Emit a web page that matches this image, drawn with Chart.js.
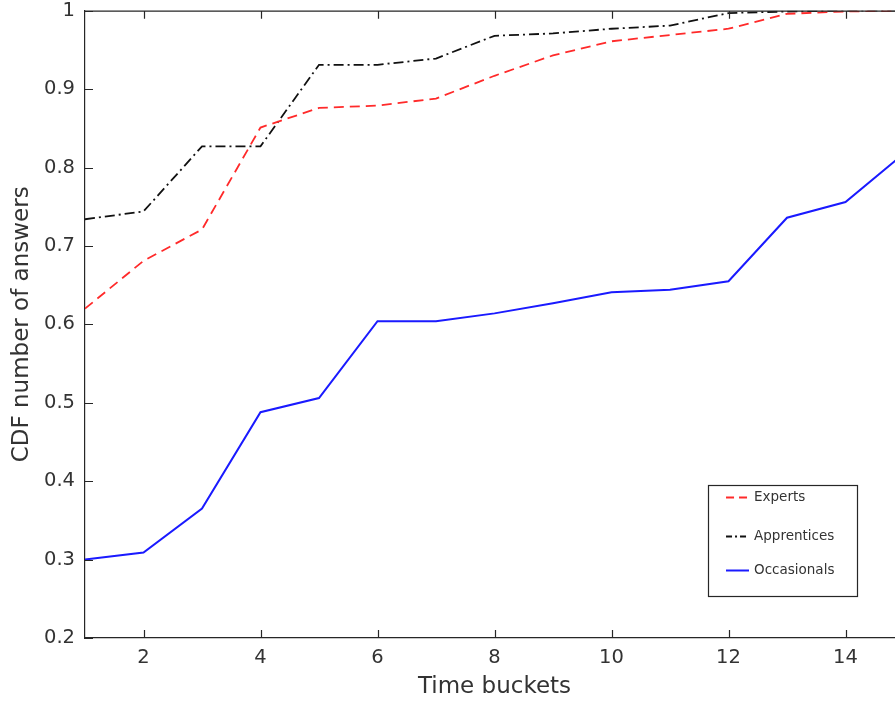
<!DOCTYPE html>
<html>
<head>
<meta charset="utf-8">
<script src="https://cdn.jsdelivr.net/npm/chart.js@4.4.1/dist/chart.umd.min.js"></script>
<style>
  html, body { margin: 0; padding: 0; background: #fff; overflow: hidden; }
  #wrap { width: 912px; height: 716px; margin-top: -11px; }
</style>
</head>
<body>
<div id="wrap"><canvas id="cdf"></canvas></div>
<script>
const buckets = [1, 2, 3, 4, 5, 6, 7, 8, 9, 10, 11, 12, 13, 14, 15];
const experts = [0.620, 0.681, 0.721, 0.851, 0.876, 0.879, 0.888, 0.917, 0.943, 0.961, 0.969, 0.977, 0.996, 0.999, 1.000];
const apprentices = [0.734, 0.744, 0.827, 0.827, 0.931, 0.931, 0.939, 0.968, 0.971, 0.977, 0.981, 0.997, 0.999, 1.000, 1.000];
const occasionals = [0.300, 0.309, 0.365, 0.488, 0.506, 0.604, 0.604, 0.614, 0.627, 0.641, 0.644, 0.655, 0.736, 0.756, 0.818];
const xTicks = [2, 4, 6, 8, 10, 12, 14];
const yTicks = [0.2, 0.3, 0.4, 0.5, 0.6, 0.7, 0.8, 0.9, 1];

const axisColor = '#262626';
const textColor = '#333333';
const fontFam = '"DejaVu Sans", sans-serif';

const toPoints = (vals) => vals.map((v, i) => ({ x: buckets[i], y: v }));

// inward ticks on all four sides plus the top/right box lines
const boxTicks = {
  id: 'boxTicks',
  afterDatasetsDraw(chart) {
    const { ctx, chartArea: a, scales } = chart;
    ctx.save();
    ctx.strokeStyle = axisColor;
    ctx.lineWidth = 1.2;
    ctx.beginPath();
    ctx.moveTo(a.left, a.top + 0.5);
    ctx.lineTo(a.right, a.top + 0.5);
    ctx.moveTo(a.right - 0.5, a.top);
    ctx.lineTo(a.right - 0.5, a.bottom);
    const len = 8;
    xTicks.forEach((t) => {
      const px = Math.round(scales.x.getPixelForValue(t)) + 0.5;
      ctx.moveTo(px, a.bottom);
      ctx.lineTo(px, a.bottom - len);
      ctx.moveTo(px, a.top);
      ctx.lineTo(px, a.top + len);
    });
    yTicks.forEach((t) => {
      const py = Math.round(scales.y.getPixelForValue(t)) + 0.5;
      ctx.moveTo(a.left, py);
      ctx.lineTo(a.left + len, py);
      ctx.moveTo(a.right, py);
      ctx.lineTo(a.right - len, py);
    });
    ctx.stroke();
    ctx.restore();
  }
};

// boxed legend inside the plot, lower right
const boxLegend = {
  id: 'boxLegend',
  afterDraw(chart) {
    const { ctx, scales } = chart;
    const x0 = scales.x.getPixelForValue(11.65);
    const x1 = scales.x.getPixelForValue(14.2);
    const y0 = scales.y.getPixelForValue(0.395);
    const y1 = scales.y.getPixelForValue(0.2535);
    ctx.save();
    ctx.fillStyle = '#fff';
    ctx.fillRect(x0, y0, x1 - x0, y1 - y0);
    ctx.strokeStyle = axisColor;
    ctx.lineWidth = 1.2;
    ctx.strokeRect(Math.round(x0) + 0.5, Math.round(y0) + 0.5, Math.round(x1 - x0), Math.round(y1 - y0));
    const rows = [y0 + 12, y0 + 51, y0 + 85];
    ctx.font = '13.5px ' + fontFam;
    ctx.textBaseline = 'middle';
    chart.data.datasets.forEach((ds, i) => {
      const y = Math.round(rows[i]) + 0.5;
      ctx.strokeStyle = ds.borderColor;
      ctx.lineWidth = ds.borderWidth;
      ctx.setLineDash(ds.legendDash || []);
      ctx.beginPath();
      ctx.moveTo(x0 + 18, y);
      ctx.lineTo(x0 + 41, y);
      ctx.stroke();
      ctx.setLineDash([]);
      ctx.fillStyle = textColor;
      ctx.fillText(ds.label, x0 + 46, y);
    });
    ctx.restore();
  }
};

new Chart(document.getElementById('cdf'), {
  type: 'line',
  data: {
    datasets: [
      { label: 'Experts', data: toPoints(experts), borderColor: '#ff2a2a', borderWidth: 1.8, borderDash: [10, 6], legendDash: [8, 5] },
      { label: 'Apprentices', data: toPoints(apprentices), borderColor: '#111111', borderWidth: 1.8, borderDash: [10, 4, 2, 4], legendDash: [6, 3, 2, 3] },
      { label: 'Occasionals', data: toPoints(occasionals), borderColor: '#1a1aff', borderWidth: 2 }
    ]
  },
  options: {
    responsive: true,
    maintainAspectRatio: false,
    animation: false,
    layout: { padding: { top: 0, right: 8, left: 0, bottom: 0 } },
    elements: { point: { radius: 0 }, line: { tension: 0, fill: false } },
    plugins: { legend: { display: false }, tooltip: { enabled: false } },
    scales: {
      x: {
        type: 'linear',
        min: 1,
        max: 15,
        afterBuildTicks: (s) => { s.ticks = xTicks.map((v) => ({ value: v })); },
        afterFit: (s) => { s.height = 67; },
        grid: { drawOnChartArea: false, drawTicks: false },
        border: { color: axisColor, width: 1.2 },
        ticks: { color: textColor, font: { family: fontFam, size: 19.5 }, padding: 8, maxRotation: 0 },
        title: { display: true, text: 'Time buckets', color: textColor, font: { family: fontFam, size: 23 }, padding: { top: 4 } }
      },
      y: {
        min: 0.2,
        max: 1,
        afterBuildTicks: (s) => { s.ticks = yTicks.map((v) => ({ value: v })); },
        afterFit: (s) => { s.width = 85; },
        grid: { drawOnChartArea: false, drawTicks: false },
        border: { color: axisColor, width: 1.2 },
        ticks: { color: textColor, font: { family: fontFam, size: 19.5 }, padding: 10, callback: (v) => String(Math.round(v * 10) / 10) },
        title: { display: true, text: 'CDF number of answers', color: textColor, font: { family: fontFam, size: 23 }, padding: { top: 8, bottom: 2 } }
      }
    }
  },
  plugins: [boxTicks, boxLegend]
});
</script>
</body>
</html>
